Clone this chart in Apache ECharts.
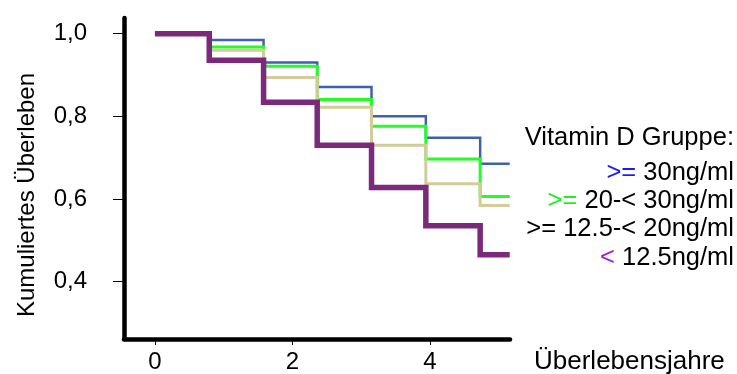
<!DOCTYPE html>
<html>
<head>
<meta charset="utf-8">
<script src="https://cdn.jsdelivr.net/npm/echarts@6/dist/echarts.min.js"></script>
<style>
  html, body { margin: 0; padding: 0; background: #fff; }
  #chart { width: 737px; height: 374px; }
</style>
</head>
<body>
<div id="chart"></div>
<script>
// Kaplan-Meier survival by vitamin D group
const stepTimes = [0, 0.79, 1.58, 2.36, 3.15, 3.94, 4.73, 5.16];
const survHigh  = [1.0, 0.985, 0.930, 0.871, 0.800, 0.748, 0.685, 0.685]; // >= 30ng/ml
const survMid   = [1.0, 0.968, 0.921, 0.841, 0.776, 0.697, 0.606, 0.606]; // >= 20-< 30ng/ml
const survLow   = [1.0, 0.960, 0.894, 0.822, 0.730, 0.637, 0.584, 0.584]; // >= 12.5-< 20ng/ml
const survDef   = [1.0, 0.936, 0.834, 0.730, 0.628, 0.535, 0.465, 0.465]; // < 12.5ng/ml
const yTicks = [0.4, 0.6, 0.8, 1.0];
const xTicks = [0, 2, 4];

const font = '"Liberation Sans", Arial, sans-serif';
const txt = size => size + 'px ' + font;
const pairs = vals => stepTimes.map((t, i) => [t, vals[i]]);

function stepSeries(name, vals, color, width, z) {
  return {
    name, type: 'line', step: 'end', data: pairs(vals),
    showSymbol: false, symbol: 'none', z,
    lineStyle: { color, width, join: 'miter', cap: 'butt' },
    emphasis: { disabled: true }, silent: true, animation: false
  };
}

const chart = echarts.init(document.getElementById('chart'), null, { renderer: 'canvas' });
chart.setOption({
  animation: false,
  grid: { left: 124, right: 227, top: 18, bottom: 32, containLabel: false },
  xAxis: {
    type: 'value', min: -0.45, max: 5.164,
    axisLine: { onZero: false, lineStyle: { color: '#000', width: 4.5 } },
    axisTick: { show: true, length: 6, customValues: xTicks, lineStyle: { color: '#000', width: 1 } },
    axisLabel: { customValues: xTicks, margin: 11, color: '#000', fontSize: 24, fontFamily: font },
    splitLine: { show: false }
  },
  yAxis: {
    type: 'value', min: 0.261, max: 1.038,
    axisLine: { show: true, onZero: false, lineStyle: { color: '#000', width: 4.5 } },
    axisTick: { show: true, length: 11, customValues: yTicks, lineStyle: { color: '#000', width: 1 } },
    axisLabel: {
      customValues: yTicks, margin: 37, color: '#000', fontSize: 24, fontFamily: font,
      formatter: v => v.toFixed(1).replace('.', ',')
    },
    splitLine: { show: false }
  },
  series: [
    stepSeries('>= 30ng/ml', survHigh, '#4060b4', 2.5, 2),
    stepSeries('>= 20-< 30ng/ml', survMid, '#22ff22', 3, 3),
    stepSeries('>= 12.5-< 20ng/ml', survLow, '#d4cc98', 3, 4),
    stepSeries('< 12.5ng/ml', survDef, '#7b2a7b', 5.5, 5)
  ],
  graphic: [
    {
      type: 'text', x: 27, y: 195, rotation: Math.PI / 2,
      style: { text: 'Kumuliertes Überleben', fill: '#000', font: txt(24), align: 'center', verticalAlign: 'middle' }
    },
    {
      type: 'text', x: 534, y: 362,
      style: { text: 'Überlebensjahre', fill: '#000', font: txt(26), align: 'left', verticalAlign: 'middle' }
    },
    {
      type: 'text', x: 734, y: 138,
      style: { text: 'Vitamin D Gruppe:', fill: '#000', font: txt(25.5), align: 'right', verticalAlign: 'middle' }
    },
    {
      type: 'text', x: 734, y: 173,
      style: {
        text: '{a|>=} 30ng/ml', fill: '#000', font: txt(25.5), align: 'right', verticalAlign: 'middle',
        rich: { a: { fill: '#1a1aff', font: txt(25.5) } }
      }
    },
    {
      type: 'text', x: 734, y: 201,
      style: {
        text: '{a|>=} 20-< 30ng/ml', fill: '#000', font: txt(25.5), align: 'right', verticalAlign: 'middle',
        rich: { a: { fill: '#22ee22', font: txt(25.5) } }
      }
    },
    {
      type: 'text', x: 734, y: 229,
      style: { text: '>= 12.5-< 20ng/ml', fill: '#000', font: txt(25.5), align: 'right', verticalAlign: 'middle' }
    },
    {
      type: 'text', x: 734, y: 258,
      style: {
        text: '{a|<} 12.5ng/ml', fill: '#000', font: txt(25.5), align: 'right', verticalAlign: 'middle',
        rich: { a: { fill: '#a020d0', font: txt(25.5) } }
      }
    }
  ]
});
</script>
</body>
</html>
